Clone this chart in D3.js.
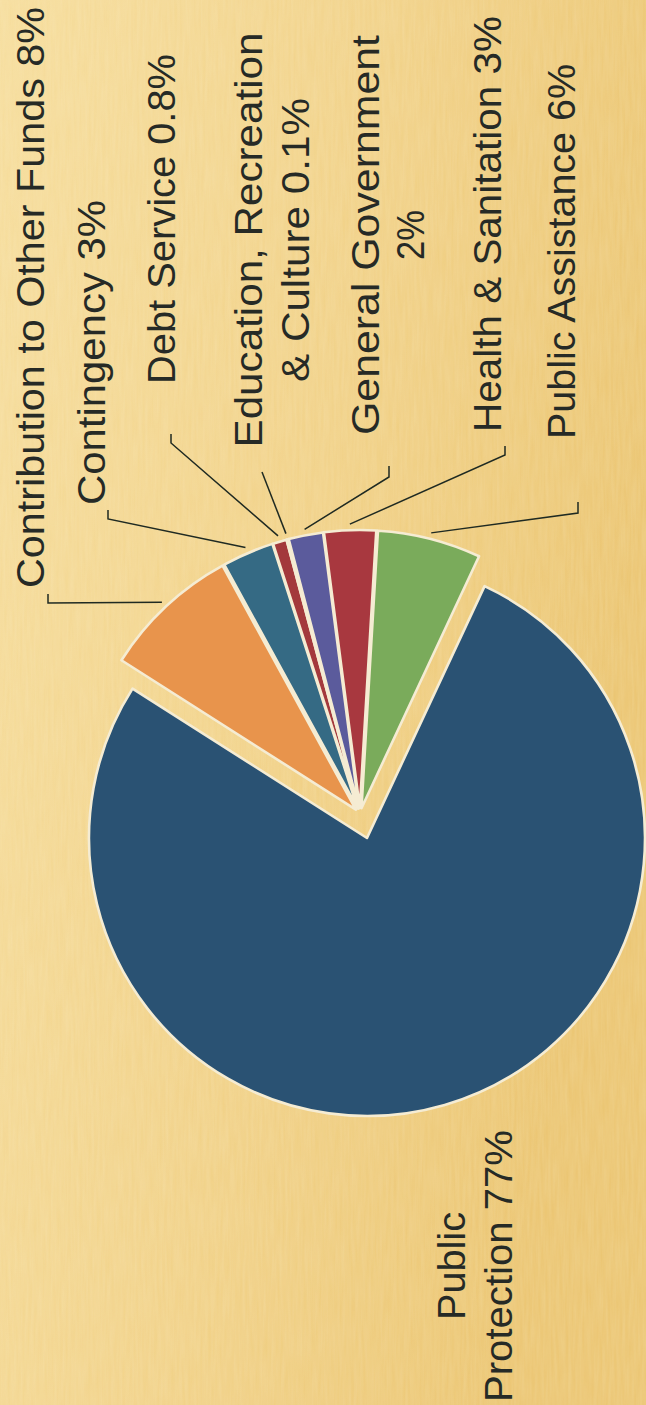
<!DOCTYPE html>
<html>
<head>
<meta charset="utf-8">
<script src="https://cdn.jsdelivr.net/npm/d3@7"></script>
<style>
  html, body { margin: 0; padding: 0; background: #f2d48c; }
  svg { display: block; }
</style>
</head>
<body>
<svg id="chart" width="646" height="1405"></svg>
<script>
// Budget shares by function (alphabetical, clockwise)
const categories = [
  "Contribution to Other Funds",
  "Contingency",
  "Debt Service",
  "Education, Recreation & Culture",
  "General Government",
  "Health & Sanitation",
  "Public Assistance",
  "Public Protection"
];
const shares = [8, 3, 0.8, 0.1, 2, 3, 6, 77];
const shareLabels = ["8%", "3%", "0.8%", "0.1%", "2%", "3%", "6%", "77%"];
const sliceColors = ["#e8944c", "#356a84", "#a3393c", "#eadcae", "#5b5b9c", "#a8383f", "#7aab5b", "#2a5273"];

// Label text, one entry per line
const labelText = [
  ["Contribution to Other Funds 8%"],
  ["Contingency 3%"],
  ["Debt Service 0.8%"],
  ["Education, Recreation", "& Culture 0.1%"],
  ["General Government", "2%"],
  ["Health & Sanitation 3%"],
  ["Public Assistance 6%"],
  ["Public", "Protection 77%"]
];

// Layout (chart is drawn landscape, then turned a quarter turn counter-clockwise)
const W = 646, H = 1405;
const cx = 591, cy = 360, R = 278;
const startA = 32.5 * Math.PI / 180;
const explode = [6, 6, 6, 6, 6, 6, 6, 25];
const fontSize = 39;
// per label: anchor, x, baselines, text lengths, leader elbow/end
const labelLayout = [
  { anchor: "start",  x: 817,  y: [44],       len: [581],      leader: [[802, 48], [811, 48]] },
  { anchor: "start",  x: 900,  y: [105],      len: [305],      leader: [[886, 108], [895, 108]] },
  { anchor: "start",  x: 1021, y: [175],      len: [330],      leader: [[962, 171], [971, 171]] },
  { anchor: "middle", x: 1165, y: [262, 309], len: [415, 284], leader: [[933, 262]] },
  { anchor: "middle", x: 1170, y: [379, 424], len: [400, 50],  leader: [[928, 389], [939, 389]] },
  { anchor: "start",  x: 973,  y: [501],      len: [416],      leader: [[950, 505], [959, 505]] },
  { anchor: "start",  x: 966,  y: [575],      len: [375],      leader: [[892, 578], [903, 578]] },
  { anchor: "middle", x: 139,  y: [465, 512], len: [108, 272], leader: null }
];

const svg = d3.select("#chart");
const defs = svg.append("defs");

// parchment background
const bg = defs.append("linearGradient").attr("id", "paper")
  .attr("x1", 0).attr("y1", 0).attr("x2", 1).attr("y2", 0.35);
bg.append("stop").attr("offset", "0%").attr("stop-color", "#f6dd9c");
bg.append("stop").attr("offset", "55%").attr("stop-color", "#f1d187");
bg.append("stop").attr("offset", "100%").attr("stop-color", "#ebc571");

const grain = defs.append("filter").attr("id", "grain")
  .attr("x", 0).attr("y", 0).attr("width", "100%").attr("height", "100%");
grain.append("feTurbulence").attr("type", "fractalNoise")
  .attr("baseFrequency", "0.35 0.025").attr("numOctaves", 2).attr("seed", 7);
grain.append("feColorMatrix").attr("type", "matrix")
  .attr("values", "0 0 0 0 1  0 0 0 0 0.97  0 0 0 0 0.85  0 0 0 0.22 0");

svg.append("rect").attr("width", W).attr("height", H).attr("fill", "url(#paper)");
svg.append("rect").attr("width", W).attr("height", H).attr("filter", "url(#grain)").attr("opacity", 0.8);

const g = svg.append("g").attr("transform", `translate(0,${H}) rotate(-90)`);

const pie = d3.pie().sort(null).value(d => d)
  .startAngle(startA).endAngle(startA + 2 * Math.PI);
const arcs = pie(shares);
const arc = d3.arc().innerRadius(0).outerRadius(R);
const rim = d3.arc().innerRadius(R + 6).outerRadius(R + 6);

function shift(d, i) {
  const m = (d.startAngle + d.endAngle) / 2;
  return [Math.sin(m) * explode[i], -Math.cos(m) * explode[i]];
}

const pieG = g.append("g").attr("transform", `translate(${cx},${cy})`);

pieG.selectAll("path.slice")
  .data(arcs)
  .join("path")
  .attr("class", "slice")
  .attr("transform", (d, i) => `translate(${shift(d, i)})`)
  .attr("d", arc)
  .attr("fill", (d, i) => sliceColors[i])
  .attr("stroke", "#f5ecd3")
  .attr("stroke-width", 2.6)
  .attr("stroke-linejoin", "round");

// leader lines
const line = d3.line();
arcs.forEach((d, i) => {
  const lay = labelLayout[i];
  if (!lay.leader) return;
  const s = shift(d, i);
  const c = rim.centroid(d);
  const p0 = [cx + c[0] + s[0], cy + c[1] + s[1]];
  g.append("path")
    .attr("d", line([p0, ...lay.leader]))
    .attr("fill", "none")
    .attr("stroke", "#1f2a22")
    .attr("stroke-width", 1.5);
});

// labels
labelText.forEach((lines, i) => {
  const lay = labelLayout[i];
  lines.forEach((txt, j) => {
    g.append("text")
      .attr("x", lay.x)
      .attr("y", lay.y[j])
      .attr("text-anchor", lay.anchor)
      .attr("textLength", lay.len[j])
      .attr("lengthAdjust", "spacingAndGlyphs")
      .attr("font-family", "'Liberation Sans', Arial, sans-serif")
      .attr("font-size", fontSize)
      .attr("fill", "#262a26")
      .text(txt);
  });
});
</script>
</body>
</html>
